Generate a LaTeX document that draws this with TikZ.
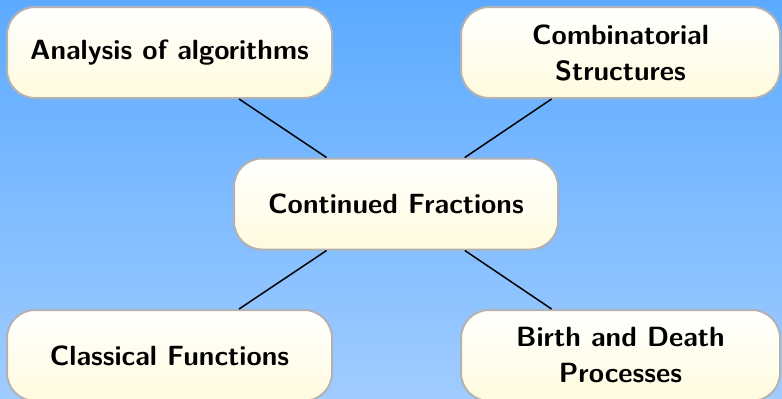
\documentclass[tikz,border=0pt]{standalone}
\usetikzlibrary{shadings}
\definecolor{bgtop}{RGB}{92,170,255}
\definecolor{bgbot}{RGB}{160,204,255}
\definecolor{boxbot}{RGB}{255,251,222}
\definecolor{boxline}{RGB}{178,178,178}
\tikzset{
  topic/.style={rounded corners=28pt, draw=boxline, line width=2pt,
    top color=white, bottom color=boxbot, minimum height=91pt,
    align=center, font=\fontsize{27.8}{36}\selectfont\sffamily\bfseries, inner sep=0pt},
  link/.style={line width=1.5pt, black}
}
\begin{document}
\begin{tikzpicture}[x=1pt,y=-1pt]
\useasboundingbox (0,0) rectangle (782,399);
\shade[top color=bgtop, bottom color=bgbot] (0,0) rectangle (782,399);
\node[topic, minimum width=325pt] (ana) at (169.5,52.5) {Analysis of algorithms};
\node[topic, minimum width=319pt] (comb) at (620.5,52.5) {Combinatorial\\Structures};
\node[topic, minimum width=324pt] (cf) at (396,204) {Continued Fractions};
\node[topic, minimum width=325pt] (cls) at (169.5,355.5) {Classical Functions};
\node[topic, minimum width=319pt] (bd) at (620.5,355.5) {Birth and Death\\Processes};
\draw[link] (ana) -- (cf);
\draw[link] (comb) -- (cf);
\draw[link] (cls) -- (cf);
\draw[link] (bd) -- (cf);
\end{tikzpicture}
\end{document}
